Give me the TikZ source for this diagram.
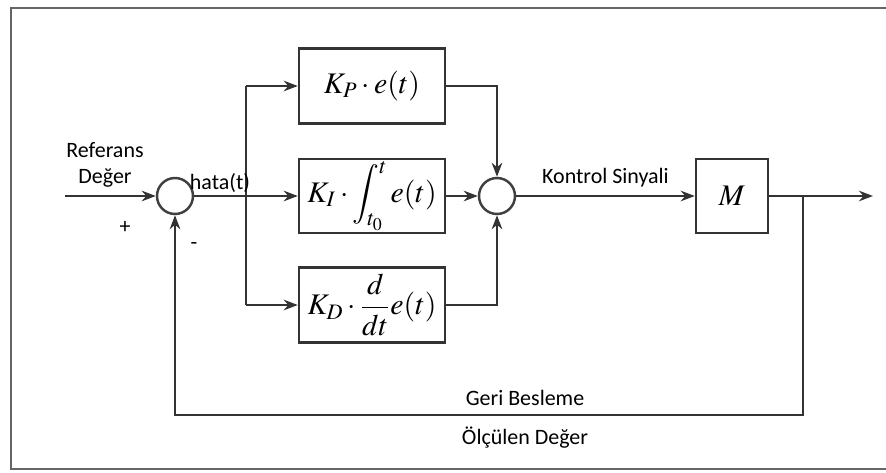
\documentclass[tikz,border=0pt]{standalone}
\usepackage{mathptmx}
\usepackage{fontspec}
\setmainfont{Carlito}
\usepackage{tikz}
\usetikzlibrary{positioning, arrows.meta, calc}

\begin{document}
\begin{tikzpicture}[
    x=0.02cm, y=-0.02cm,
    line width=1.4pt,
    draw=black!80,
    >={Stealth[length=8pt,width=6pt]},
    font=\fontsize{12.5}{15}\selectfont,
    % ブロックと加算点のスタイル
    blockbox/.style={draw=black!80, rectangle, inner sep=0pt,
        font=\fontsize{17}{20}\selectfont},
    sumpoint/.style={draw=black!75, circle, minimum size=0.72cm, inner sep=0pt}
]
    \useasboundingbox (0,0) rectangle (886,473);

    % --- 外枠 ---
    \draw [black!60, line width=1.2pt] (886,8) -- (11,8) -- (11,469) -- (886,469);

    % --- 加算点とブロック ---
    \node [sumpoint] (sum1) at (175,196) {};
    \node [sumpoint] (sum2) at (497,196) {};
    \node [blockbox, minimum width=2.92cm, minimum height=1.5cm] (kp) at (372,86)
        {$K_P\cdot e(t)$};
    \node [blockbox, minimum width=2.92cm, minimum height=1.48cm] (ki) at (372,196)
        {$K_I\cdot \displaystyle\int_{t_0}^{t} e(t)$};
    \node [blockbox, minimum width=2.92cm, minimum height=1.5cm] (kd) at (372,305)
        {$K_D\cdot \displaystyle\frac{d}{dt}e(t)$};
    \node [blockbox, minimum width=1.44cm, minimum height=1.48cm] (plant) at (732,196)
        {$M$};

    % --- 分岐点 ---
    \coordinate (in) at (65,196);
    \coordinate (split) at (246,196);
    \coordinate (up) at (246,86);
    \coordinate (dn) at (246,305);
    \coordinate (tap) at (803,196);
    \coordinate (out) at (873,196);
    \coordinate (fbcorner) at (803,415);

    % --- 信号線 ---
    \draw [->] (in) -- (sum1);
    \draw (sum1) -- (split);
    \draw [->] (split) -- (ki);
    \draw (up) -- (dn);
    \draw [->] (up) -- (kp);
    \draw [->] (dn) -- (kd);
    \draw [->] (kp) -| (sum2);
    \draw [->] (ki) -- (sum2);
    \draw [->] (kd) -| (sum2);
    \draw [->] (sum2) -- node[above=1pt] {Kontrol Sinyali} (plant);
    \draw (plant) -- (tap);
    \draw [->] (tap) -- (out);
    % フィードバック
    \draw [->] (tap) -- (fbcorner) -| (sum1);

    % --- ラベル ---
    \node [align=center] (ref) at (105,165) {Referans\\Değer};
    \node (err) at (220,183) {hata(t)};
    \node (plus) at (125,227) {+};
    \node (minus) at (194,246) {-};
    \node (fb) at (525,398) {Geri Besleme};
    \node (meas) at (525,438) {Ölçülen Değer};

\end{tikzpicture}
\end{document}
